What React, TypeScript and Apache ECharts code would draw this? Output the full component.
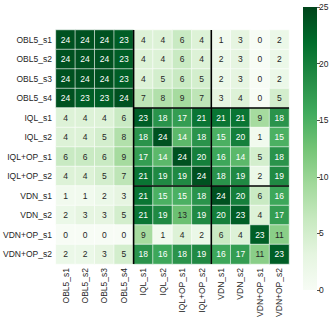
import React, { useEffect, useRef } from "react";
import * as echarts from "echarts";

const labels = [
  "OBL5_s1", "OBL5_s2", "OBL5_s3", "OBL5_s4",
  "IQL_s1", "IQL_s2", "IQL+OP_s1", "IQL+OP_s2",
  "VDN_s1", "VDN_s2", "VDN+OP_s1", "VDN+OP_s2",
];

const rowOBL5_s1 = [24, 24, 24, 23, 4, 4, 6, 4, 1, 3, 0, 2];
const rowOBL5_s2 = [24, 24, 24, 23, 4, 4, 6, 4, 2, 3, 0, 2];
const rowOBL5_s3 = [24, 24, 24, 23, 4, 5, 6, 5, 2, 3, 0, 2];
const rowOBL5_s4 = [24, 23, 23, 24, 7, 8, 9, 7, 3, 4, 0, 5];
const rowIQL_s1 = [4, 4, 4, 6, 23, 18, 17, 21, 21, 21, 9, 18];
const rowIQL_s2 = [4, 4, 5, 8, 18, 24, 14, 18, 15, 20, 1, 15];
const rowIQLOP_s1 = [6, 6, 6, 9, 17, 14, 24, 20, 16, 14, 5, 18];
const rowIQLOP_s2 = [4, 4, 5, 7, 21, 19, 19, 24, 18, 19, 2, 19];
const rowVDN_s1 = [1, 1, 2, 3, 21, 15, 15, 18, 24, 20, 6, 16];
const rowVDN_s2 = [2, 3, 3, 5, 21, 19, 13, 19, 20, 23, 4, 17];
const rowVDNOP_s1 = [0, 0, 0, 0, 9, 1, 4, 2, 6, 4, 23, 11];
const rowVDNOP_s2 = [2, 2, 3, 5, 18, 16, 18, 19, 16, 17, 11, 23];

const matrix = [
  rowOBL5_s1, rowOBL5_s2, rowOBL5_s3, rowOBL5_s4,
  rowIQL_s1, rowIQL_s2, rowIQLOP_s1, rowIQLOP_s2,
  rowVDN_s1, rowVDN_s2, rowVDNOP_s1, rowVDNOP_s2,
];

const blockBounds = [4, 8];
const colorTicks = [0, 5, 10, 15, 20, 25];

const greens = [
  "#f7fcf5", "#e5f5e0", "#c7e9c0", "#a1d99b", "#74c476",
  "#41ab5d", "#238b45", "#006d2c", "#00441b",
];

const FONT = "Liberation Sans, Arial, sans-serif";
const DARK = "#262626";

export default function App() {
  const ref = useRef<HTMLDivElement>(null);
  useEffect(() => {
    if (!ref.current) return;
    const chart = echarts.init(ref.current, null, { renderer: "svg" });
    const n = labels.length;
    const data: any[] = [];
    matrix.forEach((row, r) =>
      row.forEach((v, c) => {
        data.push({
          value: [c, r, v],
          label: { color: v >= 14 ? "#ffffff" : DARK },
        });
      })
    );
    const lineSeries: any[] = [];
    blockBounds.forEach((b) => {
      lineSeries.push({
        type: "line",
        xAxisIndex: 1,
        yAxisIndex: 1,
        data: [[b, 0], [b, n]],
        symbol: "none",
        silent: true,
        lineStyle: { color: "#000", width: 1.6 },
        z: 10,
      });
      lineSeries.push({
        type: "line",
        xAxisIndex: 1,
        yAxisIndex: 1,
        data: [[blockBounds[0], b], [n, b]],
        symbol: "none",
        silent: true,
        lineStyle: { color: "#000", width: 1.6 },
        z: 10,
      });
    });
    // gradient from bottom (offset 0, lightest) to top (offset 1, darkest)
    const stops = greens.map((c, i) => ({ offset: i / (greens.length - 1), color: c }));
    chart.setOption({
      animation: false,
      textStyle: { fontFamily: FONT },
      grid: [
        { left: 55, top: 30, width: 234, height: 234 },
        { left: 303, top: 7, width: 14, height: 283 },
      ],
      xAxis: [
        {
          type: "category",
          gridIndex: 0,
          data: labels,
          position: "bottom",
          axisLine: { show: false },
          axisTick: { show: false },
          splitLine: { show: false },
          axisLabel: {
            rotate: 90,
            interval: 0,
            margin: 4,
            fontSize: 8.5,
            color: DARK,
            fontFamily: FONT,
          },
        },
        { type: "value", gridIndex: 0, min: 0, max: n, show: false },
        {
          type: "category",
          gridIndex: 1,
          data: [""],
          show: false,
        },
      ],
      yAxis: [
        {
          type: "category",
          gridIndex: 0,
          data: labels,
          inverse: true,
          axisLine: { show: false },
          axisTick: { show: false },
          splitLine: { show: false },
          axisLabel: {
            interval: 0,
            margin: 4,
            fontSize: 8.5,
            color: DARK,
            fontFamily: FONT,
          },
        },
        { type: "value", gridIndex: 0, min: 0, max: n, inverse: true, show: false },
        {
          type: "value",
          gridIndex: 1,
          min: colorTicks[0],
          max: colorTicks[colorTicks.length - 1],
          interval: colorTicks[1] - colorTicks[0],
          position: "right",
          axisLine: { show: false },
          axisTick: { show: true, length: 3, lineStyle: { color: DARK, width: 0.8 } },
          splitLine: { show: false },
          axisLabel: { fontSize: 8.5, margin: 2, color: DARK, fontFamily: FONT },
        },
      ],
      visualMap: {
        type: "continuous",
        show: false,
        min: 0,
        max: 25,
        seriesIndex: 0,
        inRange: { color: greens },
      },
      series: [
        {
          type: "heatmap",
          xAxisIndex: 0,
          yAxisIndex: 0,
          data,
          itemStyle: { borderColor: "#ffffff", borderWidth: 0.6 },
          label: { show: true, fontSize: 8.5, fontFamily: FONT, formatter: (p: any) => String(p.value[2]) },
          emphasis: { disabled: true },
        },
        ...lineSeries,
        {
          type: "bar",
          xAxisIndex: 2,
          yAxisIndex: 2,
          data: [colorTicks[colorTicks.length - 1]],
          barWidth: "100%",
          silent: true,
          itemStyle: {
            color: new echarts.graphic.LinearGradient(0, 1, 0, 0, stops),
          },
        },
      ],
    });
    return () => chart.dispose();
  }, []);
  return (
    <div
      ref={ref}
      style={{ position: "fixed", left: 0, top: 0, width: 332, height: 320, background: "#fff" }}
    />
  );
}
